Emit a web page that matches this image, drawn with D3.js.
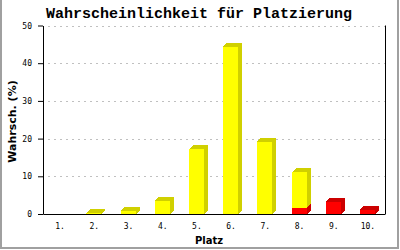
<!DOCTYPE html>
<html>
<head>
<meta charset="utf-8">
<script src="https://cdn.jsdelivr.net/npm/d3@7"></script>
<style>
body{margin:0;background:#fff;}
svg{display:block;}
</style>
</head>
<body>
<div id="chart"></div>
<script>
var places = ["1.","2.","3.","4.","5.","6.","7.","8.","9.","10."];
var yellowVals = [0,0.2,0.9,3.5,17.2,44.4,19.1,9.5,0,0];
var redVals = [0,0,0,0,0,0,0,1.6,3.2,1.1];
var yTicks = [0,10,20,30,40,50];

var W = 400, H = 250;
var plotLeft = 43, plotRight = 385, plotTop = 25.5, plotBottom = 214;
var depth = 4, barW = 15;

var svg = d3.select("#chart").append("svg")
    .attr("width",W)
    .attr("height",H);

// outer frame (gray)
svg.append("rect").attr("x",0).attr("y",0).attr("width",2).attr("height",249).attr("fill","#a0a0a0");
svg.append("rect").attr("x",397).attr("y",0).attr("width",2).attr("height",249).attr("fill","#a0a0a0");
svg.append("rect").attr("x",0).attr("y",247).attr("width",399).attr("height",2).attr("fill","#a0a0a0");

var x = d3.scaleBand().domain(places).range([plotLeft,plotRight]).padding(0);
var y = d3.scaleLinear().domain([0,50]).range([plotBottom,plotTop]);

// grid
svg.append("g").selectAll("line")
    .data(yTicks.filter(function(d){ return d>0; }))
    .enter().append("line")
    .attr("x1",plotLeft+5).attr("x2",plotRight)
    .attr("y1",function(d){ return Math.round(y(d))+0.5; })
    .attr("y2",function(d){ return Math.round(y(d))+0.5; })
    .attr("stroke","#c0c0c0")
    .attr("stroke-dasharray","2,4");

// stacked data
var rows = places.map(function(p,i){
  return {p:p, red:redVals[i], yellow:yellowVals[i]};
});
var stack = d3.stack().keys(["red","yellow"])(rows);
var colors = {
  red:{front:"#ff0000", side:"#cc0000"},
  yellow:{front:"#ffff00", side:"#d0d000"}
};

stack.forEach(function(layer){
  var c = colors[layer.key];
  var g = svg.append("g").attr("shape-rendering","crispEdges");
  var segs = layer.filter(function(d){ return d[1]-d[0] > 0; });
  segs.forEach(function(d){
    var cx = x(d.data.p) + x.bandwidth()/2;
    var x0 = Math.round(cx - 8);
    var y0 = y(d[0]), y1 = y(d[1]);
    // side
    g.append("polygon")
      .attr("points",[[x0+barW,y1],[x0+barW+depth,y1-depth],[x0+barW+depth,y0-depth],[x0+barW,y0]].join(" "))
      .attr("fill",c.side);
    // top
    g.append("polygon")
      .attr("points",[[x0,y1],[x0+depth,y1-depth],[x0+barW+depth,y1-depth],[x0+barW,y1]].join(" "))
      .attr("fill",c.side);
    // front
    g.append("rect")
      .attr("x",x0).attr("y",y1)
      .attr("width",barW).attr("height",Math.max(0,y0-y1))
      .attr("fill",c.front);
  });
});

// axes
var yAxis = d3.axisLeft(y).tickValues(yTicks).tickSize(5).tickSizeOuter(0).tickPadding(6);
var gy = svg.append("g").attr("transform","translate("+plotLeft+",0)").call(yAxis);
gy.selectAll("text").attr("font-family","DejaVu Sans Mono").attr("font-size","8px").attr("fill","#000");
gy.selectAll("line,path").attr("stroke","#000");

var xAxis = d3.axisBottom(x).tickSize(0).tickPadding(9);
var gx = svg.append("g").attr("transform","translate(0,"+plotBottom+")").call(xAxis);
gx.selectAll("text").attr("font-family","DejaVu Sans Mono").attr("font-size","8px").attr("fill","#000");
gx.select(".domain").attr("stroke","#000");

svg.append("line")
    .attr("x1",plotRight+0.5).attr("x2",plotRight+0.5)
    .attr("y1",plotTop).attr("y2",plotBottom)
    .attr("stroke","#000");

// texts
svg.append("text")
    .attr("x",199).attr("y",18)
    .attr("text-anchor","middle")
    .attr("font-family","Liberation Mono")
    .attr("font-weight","bold")
    .attr("font-size","15px")
    .text("Wahrscheinlichkeit für Platzierung");

svg.append("text")
    .attr("transform","translate(16,121.5) rotate(-90)")
    .attr("text-anchor","middle")
    .attr("font-family","DejaVu Sans")
    .attr("font-weight","bold")
    .attr("font-size","11px")
    .text("Wahrsch. (%)");

svg.append("text")
    .attr("x",209).attr("y",244)
    .attr("text-anchor","middle")
    .attr("font-family","DejaVu Sans")
    .attr("font-weight","bold")
    .attr("font-size","10px")
    .text("Platz");
</script>
</body>
</html>
